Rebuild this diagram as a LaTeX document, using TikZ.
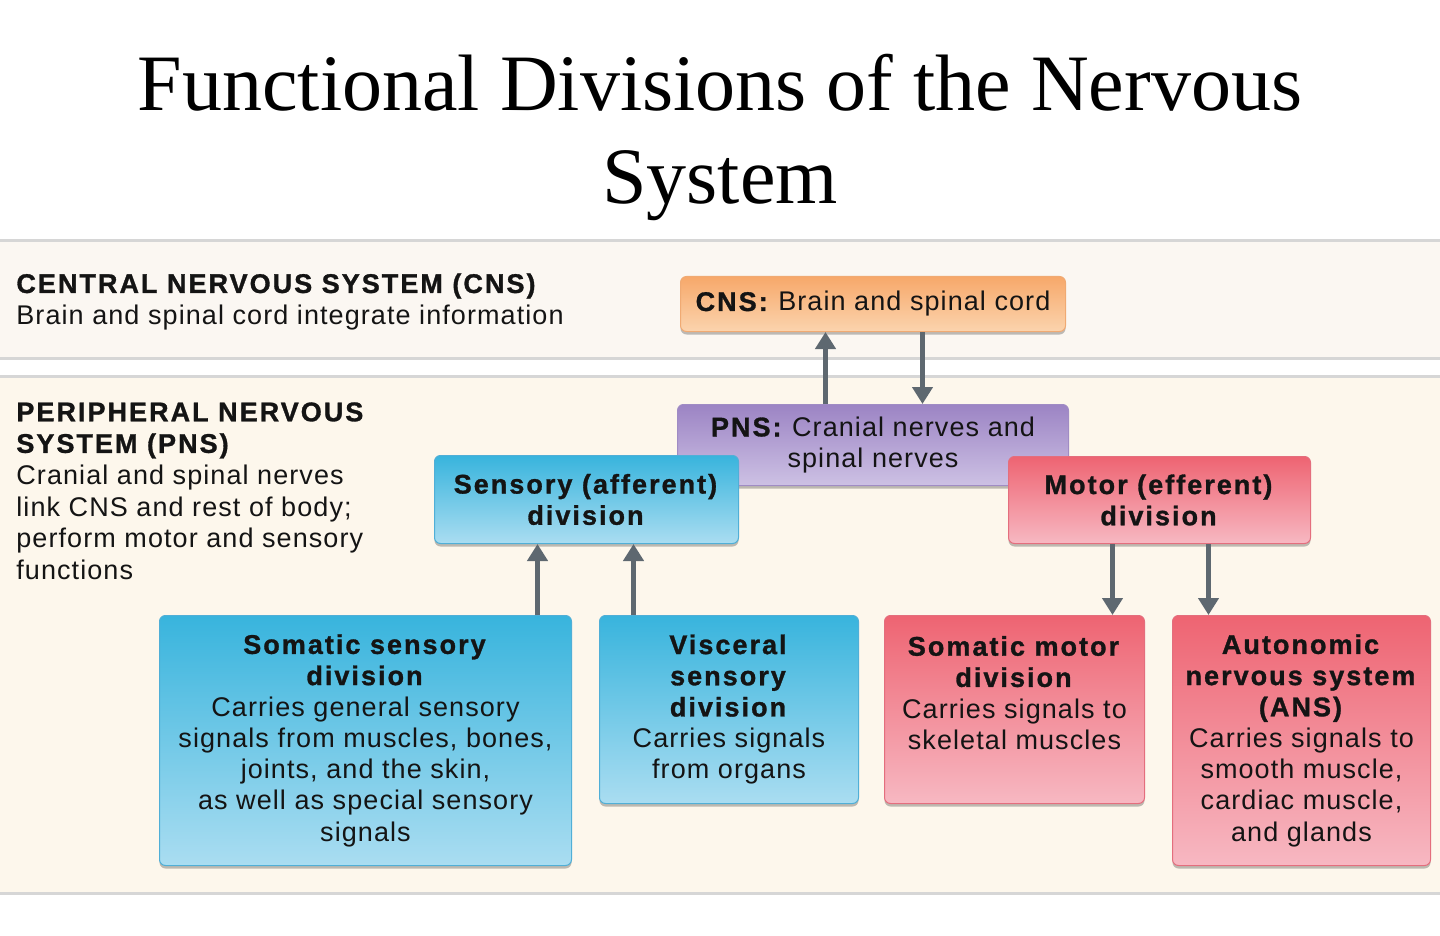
\documentclass[tikz,border=0pt]{standalone}
\usepackage{fontspec}
\setmainfont[LetterSpace=4, BoldFeatures={LetterSpace=7.5, FakeBold=1.1}]{Liberation Sans}
\newfontfamily\titlefont{Liberation Serif}
\usepackage{tikz}
\usetikzlibrary{arrows.meta, shadows}

\begin{document}
\begin{tikzpicture}[x=0.5pt, y=0.5pt,
    boxbase/.style={rounded corners=3pt, line width=0.5pt, inner sep=2pt, align=center,
        anchor=north west, text=txtcol, font=\fontsize{13.5}{15.6}\selectfont,
        drop shadow={shadow xshift=0pt, shadow yshift=-1.5pt, opacity=0.25, fill=black}},
    orangebox/.style={boxbase, draw=cnsedge, top color=cnstop, bottom color=cnsbot},
    purplebox/.style={boxbase, draw=pnsedge, top color=pnstop, bottom color=pnsbot},
    bluebox/.style={boxbase, draw=sensedge, top color=senstop, middle color=senstop!80!sensbot, bottom color=sensbot},
    redbox/.style={boxbase, draw=motedge, top color=mottop, middle color=mottop!80!motbot, bottom color=motbot},
    sidetext/.style={anchor=north west, inner sep=0, align=left, text=txtcol,
        font=\fontsize{13.5}{15.8}\selectfont},
    bandline/.style={draw=lineg, line width=1.5pt},
    arr/.style={draw=arrgray, line width=2.5pt, -{Triangle[width=10pt, length=8.5pt]}}]
    % Цвета
    \definecolor{txtcol}{RGB}{20,20,20}
    \definecolor{lineg}{RGB}{214,214,214}
    \definecolor{cnsband}{RGB}{251,247,242}
    \definecolor{pnsband}{RGB}{253,247,236}
    \definecolor{cnstop}{RGB}{247,168,106}
    \definecolor{cnsbot}{RGB}{251,212,174}
    \definecolor{cnsedge}{RGB}{240,170,115}
    \definecolor{pnstop}{RGB}{156,132,196}
    \definecolor{pnsbot}{RGB}{205,193,228}
    \definecolor{pnsedge}{RGB}{160,140,196}
    \definecolor{senstop}{RGB}{56,180,221}
    \definecolor{sensbot}{RGB}{170,221,241}
    \definecolor{sensedge}{RGB}{80,175,215}
    \definecolor{mottop}{RGB}{238,100,114}
    \definecolor{motbot}{RGB}{247,184,194}
    \definecolor{motedge}{RGB}{228,110,125}
    \definecolor{arrgray}{RGB}{94,104,112}

    % Фон
    \fill[white] (0,0) rectangle (1440,-936);
    \useasboundingbox (0,0) rectangle (1440,-936);
    \fill[cnsband] (0,-241) rectangle (1440,-358);
    \fill[pnsband] (0,-376) rectangle (1440,-893);
    \draw[bandline] (0,-241) -- (1440,-241);
    \draw[bandline] (0,-358) -- (1440,-358);
    \draw[bandline] (0,-376) -- (1440,-376);
    \draw[bandline] (0,-893) -- (1440,-893);

    % Заголовок
    \node[anchor=north, inner sep=0, align=center, font=\titlefont\fontsize{40}{46.5}\selectfont]
        (title) at (720,-54) {Functional Divisions of the Nervous\\System};

    % Текст слева
    \node[sidetext] (cnstext) at (16,-273)
        {\textbf{CENTRAL NERVOUS SYSTEM (CNS)}\\Brain and spinal cord integrate information};
    \node[sidetext] (pnstext) at (16,-402)
        {\textbf{PERIPHERAL NERVOUS}\\\textbf{SYSTEM (PNS)}\\Cranial and spinal nerves\\link CNS and rest of body;\\perform motor and sensory\\functions};

    % Блоки
    \node[orangebox, minimum width=192.5pt, minimum height=27.5pt] (cns) at (680,-276)
        {\textbf{CNS:} Brain and spinal cord};
    \node[purplebox, minimum width=195.5pt, minimum height=40.5pt] (pns) at (677,-404)
        {\textbf{PNS:} Cranial nerves and\\spinal nerves};
    \node[bluebox, minimum width=152pt, minimum height=44pt] (sensory) at (434,-455)
        {\textbf{Sensory (afferent)}\\\textbf{division}};
    \node[redbox, minimum width=151pt, minimum height=43.5pt] (motor) at (1008,-456)
        {\textbf{Motor (efferent)}\\\textbf{division}};
    \node[bluebox, minimum width=206pt, minimum height=125pt] (somsens) at (159,-615)
        {\textbf{Somatic sensory}\\\textbf{division}\\Carries general sensory\\signals from muscles, bones,\\joints, and the skin,\\as well as special sensory\\signals};
    \node[bluebox, minimum width=129.5pt, minimum height=94pt] (viscsens) at (599,-615)
        {\textbf{Visceral}\\\textbf{sensory}\\\textbf{division}\\Carries signals\\from organs};
    \node[redbox, minimum width=130pt, minimum height=94pt] (sommotor) at (884,-615)
        {\textbf{Somatic motor}\\\textbf{division}\\Carries signals to\\skeletal muscles\\[1.2pt]~};
    \node[redbox, minimum width=129pt, minimum height=125pt] (ans) at (1172,-615)
        {\textbf{Autonomic}\\\textbf{nervous system}\\\textbf{(ANS)}\\Carries signals to\\smooth muscle,\\cardiac muscle,\\and glands};

    % Стрелки
    \coordinate (up1) at ([xshift=-23.75pt]pns.north);
    \coordinate (dn1) at ([xshift=24.75pt]cns.south);
    \draw[arr] (up1) -- (up1 |- cns.south);
    \draw[arr] (dn1) -- (dn1 |- pns.north);
    \coordinate (s1) at ([xshift=-24.5pt]sensory.south);
    \coordinate (s2) at ([xshift=23.5pt]sensory.south);
    \draw[arr] (s1 |- somsens.north) -- (s1);
    \draw[arr] (s2 |- viscsens.north) -- (s2);
    \coordinate (m1) at ([xshift=-23.5pt]motor.south);
    \coordinate (m2) at ([xshift=24.5pt]motor.south);
    \draw[arr] (m1) -- (m1 |- sommotor.north);
    \draw[arr] (m2) -- (m2 |- ans.north);
\end{tikzpicture}
\end{document}
